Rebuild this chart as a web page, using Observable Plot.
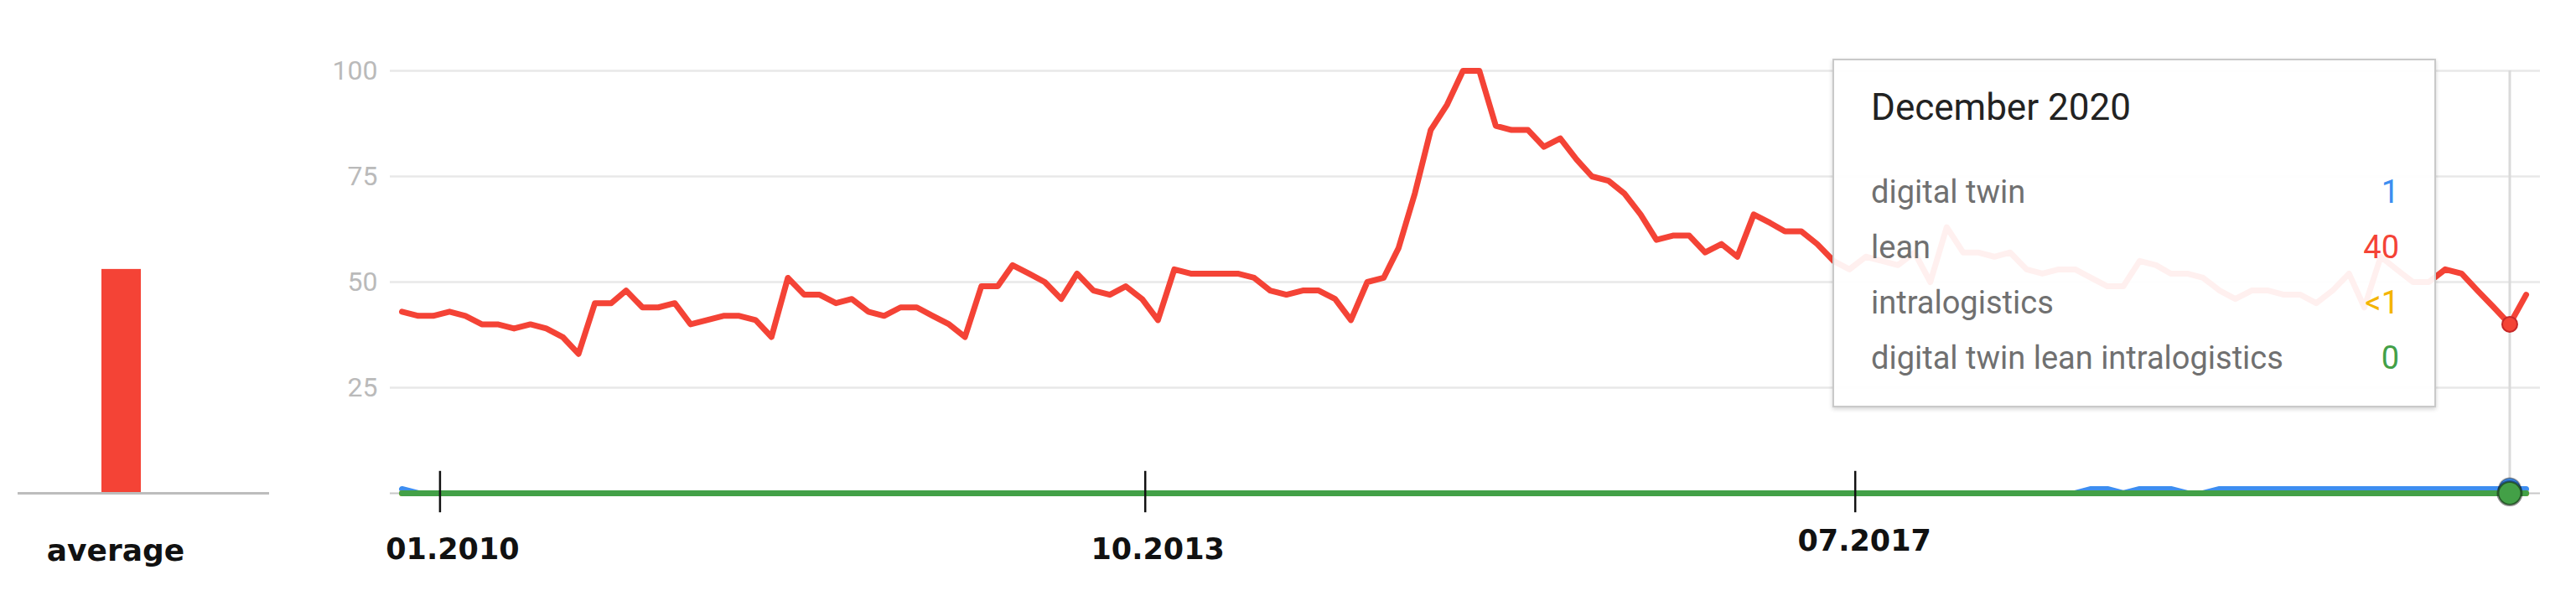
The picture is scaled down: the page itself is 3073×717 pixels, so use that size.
<!DOCTYPE html>
<html>
<head>
<meta charset="utf-8">
<script src="https://cdn.jsdelivr.net/npm/d3@7"></script>
<script src="https://cdn.jsdelivr.net/npm/@observablehq/plot@0.6"></script>
<style>
  html, body { margin: 0; padding: 0; background: #ffffff; }
  #wrap { position: relative; width: 3073px; height: 717px; overflow: hidden; background: #ffffff; }
  #wrap svg { position: absolute; left: 0; top: 0; }
  #tip { position: absolute; left: 2186px; top: 70px; width: 720px; height: 416px; box-sizing: border-box;
         background: rgba(255,255,255,0.92); border: 2px solid #c9c9c9; box-shadow: 0 2px 5px rgba(0,0,0,0.18); }
  .tt { position: absolute; font-family: Roboto, sans-serif; line-height: 1; white-space: nowrap; }
</style>
</head>
<body>
<div id="wrap"></div>
<script>
// ---------------- data ----------------
// monthly Google Trends interest, Jan 2010 .. Jan 2021
const startMonth = "2010-01-01";
const endMonth = "2021-01-01";

const lean = [
  43,42,42,43,42,40,40,39,40,39,37,33,   // 2010
  45,45,48,44,44,45,40,41,42,42,41,37,   // 2011
  51,47,47,45,46,43,42,44,44,42,40,37,   // 2012
  49,49,54,52,50,46,52,48,47,49,46,41,   // 2013
  53,52,52,52,52,51,48,47,48,48,46,41,   // 2014
  50,51,58,71,86,92,100,100,87,86,86,82, // 2015
  84,79,75,74,71,66,60,61,61,57,59,56,   // 2016
  66,64,62,62,59,55,53,56,55,54,57,50,   // 2017
  63,57,57,56,57,53,52,53,53,51,49,49,   // 2018
  55,54,52,52,51,48,46,48,48,47,47,45,   // 2019
  48,52,44,56,53,50,50,53,52,48,44,40,   // 2020
  47                                     // 2021
];
const digitalTwin = [
  1,0,0,0,0,0,0,0,0,0,0,0,
  0,0,0,0,0,0,0,0,0,0,0,0,
  0,0,0,0,0,0,0,0,0,0,0,0,
  0,0,0,0,0,0,0,0,0,0,0,0,
  0,0,0,0,0,0,0,0,0,0,0,0,
  0,0,0,0,0,0,0,0,0,0,0,0,
  0,0,0,0,0,0,0,0,0,0,0,0,
  0,0,0,0,0,0,0,0,0,0,0,0,
  0,0,0,0,0,0,0,0,0,1,1,0,
  1,1,1,0,0,1,1,1,1,1,1,1,
  1,1,1,1,1,1,1,1,1,1,1,1,
  1
];
const intralogistics = [
  0,0,0,0,0,0,0,0,0,0,0,0,
  0,0,0,0,0,0,0,0,0,0,0,0,
  0,0,0,0,0,0,0,0,0,0,0,0,
  0,0,0,0,0,0,0,0,0,0,0,0,
  0,0,0,0,0,0,0,0,0,0,0,0,
  0,0,0,0,0,0,0,0,0,0,0,0,
  0,0,0,0,0,0,0,0,0,0,0,0,
  0,0,0,0,0,0,0,0,0,0,0,0,
  0,0,0,0,0,0,0,0,0,0,0,0,
  0,0,0,0,0,0,0,0,0,0,0,0,
  0,0,0,0,0,0,0,0,0,0,0,0,
  0
];
const combined = [
  0,0,0,0,0,0,0,0,0,0,0,0,
  0,0,0,0,0,0,0,0,0,0,0,0,
  0,0,0,0,0,0,0,0,0,0,0,0,
  0,0,0,0,0,0,0,0,0,0,0,0,
  0,0,0,0,0,0,0,0,0,0,0,0,
  0,0,0,0,0,0,0,0,0,0,0,0,
  0,0,0,0,0,0,0,0,0,0,0,0,
  0,0,0,0,0,0,0,0,0,0,0,0,
  0,0,0,0,0,0,0,0,0,0,0,0,
  0,0,0,0,0,0,0,0,0,0,0,0,
  0,0,0,0,0,0,0,0,0,0,0,0,
  0
];

const seriesNames = ["digital twin", "lean", "intralogistics", "digital twin lean intralogistics"];
const seriesValues = [digitalTwin, lean, intralogistics, combined];
const seriesColors = ["#3d8ef0", "#f44336", "#f4b400", "#43a047"];

const yTicks = [25, 50, 75, 100];

const averageCategory = ["average"];
const averageValue = [53];

const dateTickLabels = ["01.2010", "10.2013", "07.2017"];
const dateTickDates = ["2010-03-14", "2013-11-07", "2017-07-12"];

const hoverMonth = "2020-12-01";
const hoverTitle = "December 2020";
const hoverValues = ["1", "40", "<1", "0"];

// ---------------- build ----------------
const months = d3.utcMonth.range(new Date(startMonth), d3.utcMonth.offset(new Date(endMonth), 1));
const rows = [];
seriesNames.forEach((name, k) => seriesValues[k].forEach((v, i) => rows.push({date: months[i], value: v, series: name})));
const hoverDate = new Date(hoverMonth);
const hoverRows = rows.filter(d => +d.date === +hoverDate);
const colorOf = Object.fromEntries(seriesNames.map((n, k) => [n, seriesColors[k]]));
const ticks = dateTickLabels.map((label, i) => ({label, date: new Date(dateTickDates[i])}));
const avgRows = averageCategory.map((c, i) => ({category: c, value: averageValue[i]}));

const lineOf = (name) => Plot.lineY(rows, {
  filter: d => d.series === name, x: "date", y: "value",
  stroke: colorOf[name], strokeWidth: 7, strokeLinejoin: "round", strokeLinecap: "round"
});

const M = {top: 84, bottom: 129};

const main = Plot.plot({
  width: 3073, height: 717,
  marginLeft: 465, marginRight: 43, marginTop: M.top, marginBottom: M.bottom,
  style: {background: "transparent", overflow: "visible"},
  x: {type: "utc", domain: [months[0], months[months.length - 1]], range: [479, 3013], axis: null},
  y: {domain: [0, 100]},
  marks: [
    Plot.gridY(yTicks, {stroke: "#e8e8e8", strokeOpacity: 1, strokeWidth: 2.5}),
    Plot.axisY(yTicks, {tickSize: 0, tickPadding: 15, fontSize: 32, fill: "#bababa", fontFamily: "Roboto", label: null}),
    Plot.ruleY([0], {stroke: "#c8c8c8", strokeWidth: 2}),
    Plot.ruleX([hoverDate], {stroke: "#dadada", strokeWidth: 3}),
    lineOf("digital twin"),
    lineOf("intralogistics"),
    lineOf("digital twin lean intralogistics"),
    lineOf("lean"),
    Plot.ruleX(ticks, {x: "date", y1: -4.6, y2: 5.2, stroke: "#111111", strokeWidth: 2.5}),
    Plot.text(ticks, {filter: d => d.label !== "07.2017", x: "date", y: 0, text: "label", dx: 15, dy: 78,
      lineAnchor: "bottom", fontFamily: "DejaVu Sans", fontWeight: "bold", fontSize: 35, fill: "#111111"}),
    Plot.text(ticks, {filter: d => d.label === "07.2017", x: "date", y: 0, text: "label", dx: 11, dy: 68,
      lineAnchor: "bottom", fontFamily: "DejaVu Sans", fontWeight: "bold", fontSize: 35, fill: "#111111"}),
    Plot.dot(hoverRows, {filter: d => d.series === "digital twin", x: "date", y: "value", r: 13, fill: colorOf["digital twin"], stroke: "rgba(0,0,0,0.35)", strokeWidth: 2}),
    Plot.dot(hoverRows, {filter: d => d.series === "digital twin lean intralogistics", x: "date", y: "value", r: 14, fill: colorOf["digital twin lean intralogistics"], stroke: "rgba(0,0,0,0.45)", strokeWidth: 3}),
    Plot.dot(hoverRows, {filter: d => d.series === "lean", x: "date", y: "value", r: 9, fill: colorOf["lean"], stroke: "#c62828", strokeWidth: 2})
  ]
});

const bar = Plot.plot({
  width: 340, height: 717,
  marginLeft: 21, marginRight: 19, marginTop: M.top, marginBottom: M.bottom,
  style: {background: "transparent", overflow: "visible"},
  x: {type: "band", domain: averageCategory, range: [121, 168], padding: 0, axis: null},
  y: {domain: [0, 100], axis: null},
  marks: [
    Plot.barY(avgRows, {x: "category", y: "value", fill: "#f44336"}),
    Plot.ruleY([0], {stroke: "#bdbdbd", strokeWidth: 3}),
    Plot.text(avgRows, {x: "category", y: 0, text: "category", dx: -7, dy: 80, lineAnchor: "bottom",
      fontFamily: "DejaVu Sans", fontWeight: "bold", fontSize: 36, fill: "#111111"})
  ]
});

const wrap = document.getElementById("wrap");
wrap.appendChild(main);
wrap.appendChild(bar);

// tooltip overlay (hover card)
const tip = document.createElement("div");
tip.id = "tip";
wrap.appendChild(tip);

function addText(txt, left, right, top, size, color) {
  const el = document.createElement("div");
  el.className = "tt";
  el.textContent = txt;
  if (left != null) el.style.left = left + "px";
  if (right != null) { el.style.right = right + "px"; el.style.textAlign = "right"; }
  el.style.top = top + "px";
  el.style.fontSize = size + "px";
  el.style.color = color;
  wrap.appendChild(el);
}
addText(hoverTitle, 2232, null, 106, 44, "#222222");
seriesNames.forEach((name, k) => {
  const top = 210 + k * 66;
  addText(name, 2232, null, top, 38, "#707070");
  addText(hoverValues[k], null, 3073 - 2862, top, 38, seriesColors[k]);
});
</script>
</body>
</html>
